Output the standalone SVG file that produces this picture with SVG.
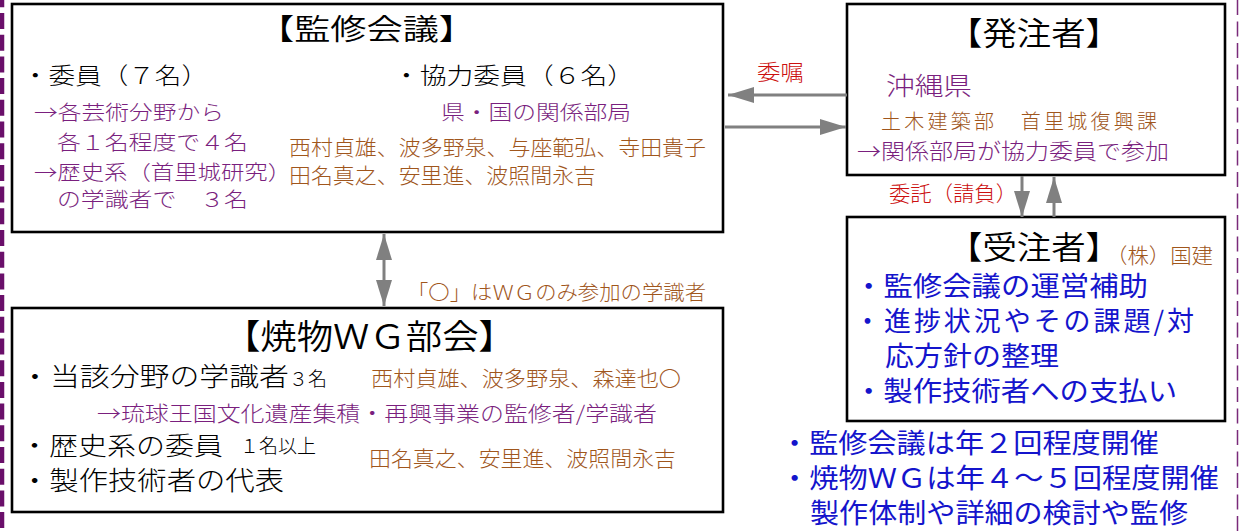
<svg xmlns="http://www.w3.org/2000/svg" width="1240" height="531" viewBox="0 0 1240 531">
<style>
text{font-family:"Noto Sans CJK JP","Noto Sans CJK SC",sans-serif;font-weight:300;}
.t{font-weight:350;}
.box{fill:#fff;stroke:#000;stroke-width:2.6;}
.k{fill:#000;}
.p{fill:#7a1f7e;}
.b{fill:#a0561c;}
.u{fill:#1414cc;font-weight:400;}
.r{fill:#cc1010;}
.arr{stroke:#808080;stroke-width:3;fill:none;marker-end:url(#ah);}
</style>
<defs>
<marker id="ah" markerUnits="userSpaceOnUse" markerWidth="26" markerHeight="16" viewBox="0 0 26 16" refX="26" refY="8" orient="auto-start-reverse">
<path d="M0,0 L26,8 L0,16 z" fill="#808080"/>
</marker>
</defs>
<rect width="1240" height="531" fill="#fff"/>
<line x1="2" y1="0" x2="2" y2="531" stroke="#6a0f6a" stroke-width="4.5" stroke-dasharray="16 5.7" stroke-dashoffset="8.7"/>
<line x1="1237.5" y1="0" x2="1237.5" y2="531" stroke="#7a2a7a" stroke-width="1.5" stroke-dasharray="15 6.5"/>

<g id="kanshu">
<rect class="box" x="12" y="4" width="711" height="228"/>
<text class="k t" x="258" y="40" font-size="29" textLength="217" lengthAdjust="spacingAndGlyphs">【監修会議】</text>
<text class="k" x="22" y="84" font-size="23" textLength="186" lengthAdjust="spacingAndGlyphs">・委員（７名）</text>
<text class="k" x="393" y="84" font-size="23" textLength="241" lengthAdjust="spacingAndGlyphs">・協力委員（６名）</text>
<text class="p" x="34" y="120" font-size="20" textLength="190" lengthAdjust="spacingAndGlyphs">→各芸術分野から</text>
<text class="p" x="57" y="150" font-size="20" textLength="191" lengthAdjust="spacingAndGlyphs">各１名程度で４名</text>
<text class="p" x="34" y="180" font-size="20" textLength="257" lengthAdjust="spacingAndGlyphs">→歴史系（首里城研究）</text>
<text class="p" x="57" y="207" font-size="20" textLength="191" lengthAdjust="spacingAndGlyphs">の学識者で　３名</text>
<text class="p" x="441" y="120" font-size="20" textLength="190" lengthAdjust="spacingAndGlyphs">県・国の関係部局</text>
<text class="b" x="289" y="155" font-size="21" textLength="417" lengthAdjust="spacingAndGlyphs">西村貞雄、波多野泉、与座範弘、寺田貴子</text>
<text class="b" x="289" y="183" font-size="21" textLength="307" lengthAdjust="spacingAndGlyphs">田名真之、安里進、波照間永吉</text>
</g>

<g id="hatchu">
<rect class="box" x="847" y="4" width="378" height="171"/>
<text class="k t" x="948" y="45" font-size="32" textLength="172" lengthAdjust="spacingAndGlyphs">【発注者】</text>
<text class="p" x="886" y="95" font-size="25" textLength="86" lengthAdjust="spacingAndGlyphs">沖縄県</text>
<text class="b" x="881" y="129" font-size="20" textLength="276" lengthAdjust="spacing">土木建築部　首里城復興課</text>
<text class="p" x="857" y="159" font-size="22" textLength="312" lengthAdjust="spacingAndGlyphs">→関係部局が協力委員で参加</text>
</g>

<g id="juchu">
<rect class="box" x="847" y="217" width="378" height="204"/>
<text class="k t" x="948" y="259" font-size="32" textLength="172" lengthAdjust="spacingAndGlyphs">【受注者】</text>
<text class="b" x="1106" y="263" font-size="21" textLength="107" lengthAdjust="spacingAndGlyphs">（株）国建</text>
<text class="u" x="854" y="296" font-size="27" textLength="294" lengthAdjust="spacingAndGlyphs">・監修会議の運営補助</text>
<text class="u" x="854" y="331" font-size="27" textLength="340" lengthAdjust="spacing">・進捗状況やその課題/対</text>
<text class="u" x="885" y="366" font-size="27" textLength="174" lengthAdjust="spacingAndGlyphs">応方針の整理</text>
<text class="u" x="854" y="401" font-size="27" textLength="323" lengthAdjust="spacingAndGlyphs">・製作技術者への支払い</text>
</g>

<g id="notes">
<text class="u" x="780" y="453" font-size="27" textLength="379" lengthAdjust="spacingAndGlyphs">・監修会議は年２回程度開催</text>
<text class="u" x="780" y="488" font-size="27" textLength="439" lengthAdjust="spacingAndGlyphs">・焼物ＷＧは年４～５回程度開催</text>
<text class="u" x="810" y="523" font-size="27" textLength="378" lengthAdjust="spacingAndGlyphs">製作体制や詳細の検討や監修</text>
</g>

<g id="wg">
<rect class="box" x="12" y="308" width="711" height="204"/>
<text class="k t" x="224" y="349" font-size="34" textLength="291" lengthAdjust="spacingAndGlyphs">【焼物ＷＧ部会】</text>
<text class="k" x="20" y="386" font-size="26" textLength="269" lengthAdjust="spacingAndGlyphs">・当該分野の学識者</text>
<text class="k" x="289" y="386" font-size="19">３名</text>
<text class="b" x="371" y="386" font-size="21" textLength="310" lengthAdjust="spacingAndGlyphs">西村貞雄、波多野泉、森達也〇</text>
<text class="p" x="97" y="421" font-size="21" textLength="560" lengthAdjust="spacingAndGlyphs">→琉球王国文化遺産集積・再興事業の監修者/学識者</text>
<text class="k" x="20" y="455" font-size="25" textLength="203" lengthAdjust="spacingAndGlyphs">・歴史系の委員</text>
<text class="k" x="240" y="453" font-size="19">１名以上</text>
<text class="b" x="369" y="466" font-size="21" textLength="307" lengthAdjust="spacingAndGlyphs">田名真之、安里進、波照間永吉</text>
<text class="k" x="20" y="490" font-size="26" textLength="264" lengthAdjust="spacingAndGlyphs">・製作技術者の代表</text>
</g>

<g id="connectors">
<line class="arr" x1="847" y1="95" x2="728" y2="95"/>
<line class="arr" x1="725" y1="127" x2="846" y2="127"/>
<line class="arr" x1="384" y1="234" x2="384" y2="306" style="marker-start:url(#ah)"/>
<line class="arr" x1="1022" y1="176" x2="1022" y2="217"/>
<line class="arr" x1="1054" y1="217" x2="1054" y2="177"/>
<text class="r" x="757" y="80" font-size="22" textLength="47" lengthAdjust="spacingAndGlyphs">委嘱</text>
<text class="r" x="889" y="201" font-size="21" textLength="128" lengthAdjust="spacingAndGlyphs">委託（請負）</text>
<text class="b" x="407" y="300" font-size="20" textLength="299" lengthAdjust="spacingAndGlyphs">「〇」はＷＧのみ参加の学識者</text>
</g>
</svg>
